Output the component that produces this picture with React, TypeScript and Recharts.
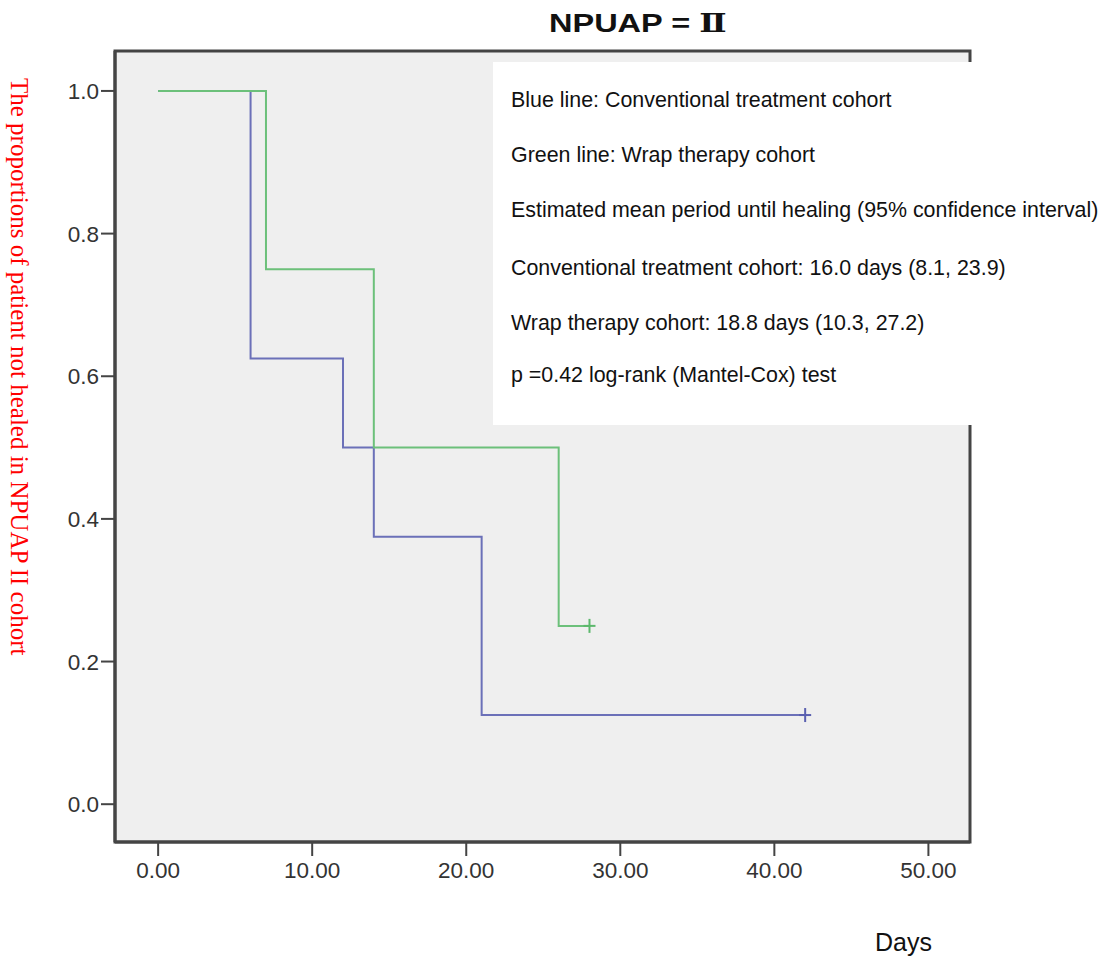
import React from 'react';
import { LineChart, Line, XAxis, YAxis, CartesianGrid, ReferenceArea } from 'recharts';

// Kaplan-Meier steps (days, proportion not healed)
const blueDays = [0, 6, 12, 14, 21, 42];
const blueProp = [1.0, 0.625, 0.5, 0.375, 0.125, 0.125];
const greenDays = [0, 7, 14, 26, 28];
const greenProp = [1.0, 0.75, 0.5, 0.25, 0.25];

const xTicks = [0, 10, 20, 30, 40, 50];
const yTicks = [0, 0.2, 0.4, 0.6, 0.8, 1.0];

const notes = [
  'Blue line: Conventional treatment cohort',
  'Green line: Wrap therapy cohort',
  'Estimated mean period until healing (95% confidence interval)',
  'Conventional treatment cohort: 16.0 days (8.1, 23.9)',
  'Wrap therapy cohort: 18.8 days (10.3, 27.2)',
  'p =0.42 log-rank (Mantel-Cox) test',
];
const noteY = [100, 155, 210, 268, 323, 375];

const X_DOMAIN: [number, number] = [-2.8, 52.7];
const Y_DOMAIN: [number, number] = [-0.053, 1.056];

const blueData = blueDays.map((t, i) => ({ t, s: blueProp[i] }));
const greenData = greenDays.map((t, i) => ({ t, s: greenProp[i] }));

const censorDot = (color: string, lastIndex: number) => (props: any) => {
  const { cx, cy, index } = props;
  if (index !== lastIndex) return <g key={`d-${index}`} />;
  return (
    <g key={`d-${index}`}>
      <line x1={cx - 6} y1={cy} x2={cx + 6} y2={cy} stroke={color} strokeWidth={2} />
      <line x1={cx} y1={cy - 7} x2={cx} y2={cy + 7} stroke={color} strokeWidth={2} />
    </g>
  );
};

const tickStyle = { fontSize: 22.5, fill: '#333', fontFamily: 'Liberation Sans, Arial, sans-serif' };

const App: React.FC = () => {
  return (
    <div style={{ position: 'absolute', left: 0, top: 0, width: 1111, height: 958, background: '#fff', overflow: 'hidden' }}>
      <LineChart
        width={1111}
        height={958}
        margin={{ top: 51, right: 141, left: 55, bottom: 66 }}
      >
        <CartesianGrid horizontal={false} vertical={false} fill="#efefef" />
        <ReferenceArea
          x1={X_DOMAIN[0]}
          x2={X_DOMAIN[1]}
          y1={Y_DOMAIN[0]}
          y2={Y_DOMAIN[1]}
          fill="none"
          stroke="#444"
          strokeWidth={3}
          fillOpacity={0}
        />
        <XAxis
          type="number"
          dataKey="t"
          domain={X_DOMAIN}
          ticks={xTicks}
          allowDataOverflow
          height={50}
          tickSize={14}
          tickMargin={6}
          axisLine={{ stroke: '#444', strokeWidth: 3 }}
          tickLine={{ stroke: '#444', strokeWidth: 2 }}
          tick={tickStyle}
          tickFormatter={(v: number) => v.toFixed(2)}
        />
        <YAxis
          type="number"
          dataKey="s"
          domain={Y_DOMAIN}
          ticks={yTicks}
          allowDataOverflow
          width={60}
          tickSize={14}
          tickMargin={2}
          axisLine={{ stroke: '#444', strokeWidth: 3 }}
          tickLine={{ stroke: '#444', strokeWidth: 2 }}
          tick={tickStyle}
          tickFormatter={(v: number) => v.toFixed(1)}
        />
        <Line
          data={blueData}
          dataKey="s"
          type="stepAfter"
          stroke="#6b70b8"
          strokeWidth={2}
          dot={censorDot('#5a60b0', blueData.length - 1)}
          activeDot={false}
          isAnimationActive={false}
        />
        <Line
          data={greenData}
          dataKey="s"
          type="stepAfter"
          stroke="#6cc07a"
          strokeWidth={2}
          dot={censorDot('#5cb86c', greenData.length - 1)}
          activeDot={false}
          isAnimationActive={false}
        />
      </LineChart>

      <div
        style={{
          position: 'absolute', left: 549, top: 8, whiteSpace: 'nowrap',
          transform: 'scaleX(1.25)', transformOrigin: 'left top',
          fontFamily: 'Liberation Sans, Arial, sans-serif', fontWeight: 'bold', fontSize: 26, lineHeight: '30px', color: '#111',
        }}
      >
        NPUAP =&nbsp;<span style={{ fontFamily: 'Liberation Serif, DejaVu Serif, serif' }}>Ⅱ</span>
      </div>

      <div
        style={{
          position: 'absolute', left: 5, top: 78, writingMode: 'vertical-rl',
          fontFamily: 'Liberation Serif, Times New Roman, serif', fontSize: 25, color: '#ff0000', whiteSpace: 'nowrap',
        }}
      >
        The proportions of patient not healed in NPUAP II cohort
      </div>

      <div style={{ position: 'absolute', left: 493, top: 62, width: 618, height: 363, background: '#fff' }} />
      {notes.map((n, i) => (
        <div
          key={n}
          style={{
            position: 'absolute', left: 511, top: noteY[i] - 13, whiteSpace: 'nowrap',
            fontFamily: 'Liberation Sans, Arial, sans-serif', fontSize: 21.4, lineHeight: '26px', color: '#111',
          }}
        >
          {n}
        </div>
      ))}

      <div
        style={{
          position: 'absolute', left: 875, top: 927, fontFamily: 'Liberation Sans, Arial, sans-serif',
          fontSize: 25, lineHeight: '30px', color: '#111',
        }}
      >
        Days
      </div>
    </div>
  );
};

export default App;
